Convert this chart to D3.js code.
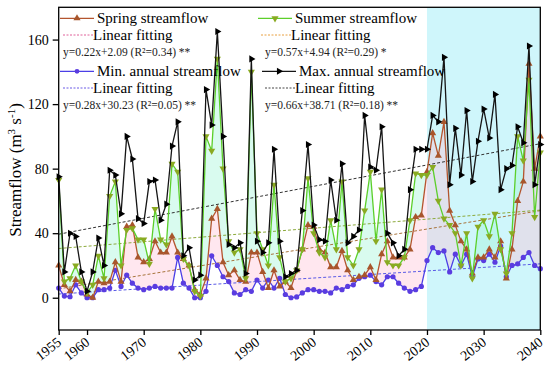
<!DOCTYPE html>
<html>
<head>
<meta charset="utf-8">
<script src="https://cdn.jsdelivr.net/npm/d3@7"></script>
<style>
  body { margin: 0; background: #fff; }
  svg { display: block; font-family: "Liberation Serif", "Times New Roman", serif; }
</style>
</head>
<body>
<div id="chart"></div>
<script>
const width = 550;
const height = 369;

const years = d3.range(1955, 2041);

const spring = [20, 8, 4, 11, 10, 2, 0, 10, 9, 10, 22, 10, 44, 45, 25, 22, 24, 35, 28, 28,
  38, 28, 24, 20, 5, 2, 12, 49, 55, 22, 14, 17, 11, 10, 28, 28, 16, 6, 17, 7,
  10, 6, 17, 30, 45, 44, 30, 28, 19, 19, 29, 17, 11, 13, 14, 19, 11, 27, 35, 25,
  25, 25, 30, 50, 51, 78, 102, 88, 109, 54, 45, 35, 30, 15, 25, 25, 30, 25, 35, 12,
  30, 60, 72, 145, 80, 100];

const summer = [73, 10, 12, 20, 10, 3, 8, 26, 12, 63, 72, 20, 42, 43, 36, 36, 21, 55, 36, 33,
  83, 78, 24, 20, 4, 1, 100, 91, 148, 80, 35, 28, 30, 12, 140, 40, 30, 20, 70, 25,
  10, 12, 17, 30, 74, 40, 28, 25, 48, 30, 72, 25, 20, 30, 54, 78, 35, 67, 22, 20,
  20, 25, 48, 77, 76, 76, 81, 60, 49, 45, 40, 20, 40, 12, 44, 48, 38, 52, 30, 15,
  40, 100, 85, 135, 50, 90];

const minFlow = [6, 1, 0.6, 8, 3, 0, 0, 5, 5, 6, 17, 7, 14, 9, 6, 5, 6, 7, 6, 6,
  6, 25, 9, 6, 0, 0, 4, 26, 20, 13, 10, 3, 2, 5, 4, 11, 6, 11, 6, 12,
  2, 0, 0.5, 3, 5, 5, 4, 4, 3, 6, 5, 7, 8, 12, 13, 14, 10, 8, 13, 13,
  9, 6, 4, 5, 7, 23, 31, 28, 29, 16, 27, 20, 27, 13, 24, 23, 27, 22, 32, 13,
  20, 21, 25, 28, 20, 18];

const maxFlow = [75, 16, 40, 38, 16, 4, 16, 37, 20, 79, 76, 52, 100, 86, 49, 46, 72, 73, 48, 58,
  94, 109, 26, 31, 11, 14, 129, 107, 165, 100, 33, 31, 34, 15, 148, 35, 28, 34, 92, 35,
  13, 15, 17, 54, 95, 45, 36, 35, 73, 48, 83, 34, 38, 42, 113, 81, 79, 106, 40, 34,
  26, 30, 67, 92, 92, 92, 113, 109, 149, 70, 105, 76, 116, 72, 97, 117, 99, 126, 67, 80,
  82, 106, 96, 156, 70, 95];

const seriesNames = ["Spring streamflow", "Summer streamflow", "Min. annual streamflow", "Max. annual streamflow"];
const fitSlopes = [0.22, 0.57, 0.28, 0.66];
const fitIntercepts = [2.09, 4.94, 30.23, 38.71];
const fitLabels = ["y=0.22x+2.09 (R\u00b2=0.34) **", "y=0.57x+4.94 (R\u00b2=0.29) *",
  "y=0.28x+30.23 (R\u00b2=0.05) **", "y=0.66x+38.71 (R\u00b2=0.18) **"];

const xTicks = [1955, 1960, 1970, 1980, 1990, 2000, 2010, 2020, 2030, 2040];
const yTicks = [0, 40, 80, 120, 160];
const shadeYears = [2020, 2040];

const svg = d3.select("#chart")
  .append("svg")
  .attr("width", width)
  .attr("height", height);

const x = d3.scaleLinear().domain([1955, 2040]).range([58.7, 540.3]);
const y = d3.scaleLinear().domain([-20, 180]).range([330, 7.3]);

const rows = years.map((yr, i) => ({
  year: yr, spring: spring[i], summer: summer[i], min: minFlow[i], max: maxFlow[i]
}));

// projection period shading
svg.append("rect")
  .attr("x", x(shadeYears[0]))
  .attr("y", y(180))
  .attr("width", x(shadeYears[1]) - x(shadeYears[0]))
  .attr("height", y(-20) - y(180))
  .attr("fill", "#cff6fb");

// fills between series
svg.append("path")
  .datum(rows)
  .attr("fill", "rgba(160, 245, 215, 0.4)")
  .attr("d", d3.area().x(d => x(d.year)).y0(d => y(d.spring)).y1(d => y(Math.max(d.spring, d.summer))));

svg.append("path")
  .datum(rows)
  .attr("fill", "rgba(255, 185, 210, 0.35)")
  .attr("d", d3.area().x(d => x(d.year)).y0(d => y(d.min)).y1(d => y(Math.max(d.min, d.spring))));

// trend lines
const fitColors = ["#5a5ae6", "#a8743c", "#8caa3c", "#333"];
fitSlopes.forEach((s, k) => {
  svg.append("line")
    .attr("x1", x(1955)).attr("x2", x(2040))
    .attr("y1", y(s * 1 + fitIntercepts[k]))
    .attr("y2", y(s * 86 + fitIntercepts[k]))
    .attr("stroke", fitColors[k])
    .attr("stroke-width", 1)
    .attr("stroke-dasharray", "3,2");
});

const line = key => d3.line().x(d => x(d.year)).y(d => y(d[key]));

const tri = d3.symbol().type(d3.symbolTriangle).size(22);

function drawSeries(key, color, markColor, marker) {
  svg.append("path")
    .datum(rows)
    .attr("fill", "none")
    .attr("stroke", color)
    .attr("stroke-width", 1.3)
    .attr("d", line(key));
  const g = svg.append("g");
  rows.forEach(d => {
    const px = x(d.year), py = y(d[key]);
    if (marker === "circle") {
      g.append("circle").attr("cx", px).attr("cy", py).attr("r", 2.6).attr("fill", markColor);
    } else {
      const rot = marker === "up" ? 0 : marker === "down" ? 180 : 90;
      g.append("path").attr("d", tri())
        .attr("transform", `translate(${px},${py}) rotate(${rot})`)
        .attr("fill", markColor);
    }
  });
}

drawSeries("min", "#4b3fe6", "#5a3ce0", "circle");
drawSeries("spring", "#b4552e", "#a8562c", "up");
drawSeries("summer", "#5ccf2a", "#8aaa22", "down");
drawSeries("max", "#151515", "#000", "right");

// frame
svg.append("rect")
  .attr("x", x(1955)).attr("y", y(180))
  .attr("width", x(2040) - x(1955))
  .attr("height", y(-20) - y(180))
  .attr("fill", "none")
  .attr("stroke", "#000")
  .attr("stroke-width", 1.3);

const yAxis = svg.append("g")
  .attr("transform", `translate(${x(1955)},0)`)
  .call(d3.axisLeft(y).tickValues(yTicks).tickSize(6).tickPadding(4));
yAxis.select(".domain").remove();
yAxis.selectAll("line").attr("stroke-width", 1.3);
yAxis.selectAll("text").attr("font-size", 14).attr("font-family", "Liberation Serif").attr("fill", "#000");

const xAxis = svg.append("g")
  .attr("transform", `translate(0,${y(-20)})`)
  .call(d3.axisBottom(x).tickValues(xTicks).tickFormat(d3.format("d")).tickSize(5));
xAxis.select(".domain").remove();
xAxis.selectAll("line").attr("stroke-width", 1.3);
xAxis.selectAll("text")
  .attr("font-size", 14)
  .attr("font-family", "Liberation Serif")
  .attr("fill", "#000")
  .attr("text-anchor", "end")
  .attr("x", 0).attr("y", 0).attr("dy", 0)
  .attr("transform", "translate(3,14) rotate(-38)");

// y label
const yl = svg.append("text")
  .attr("transform", "translate(21,170) rotate(-90)")
  .attr("text-anchor", "middle")
  .attr("font-size", 17);
yl.append("tspan").text("Streamflow (m");
yl.append("tspan").attr("baseline-shift", "super").attr("font-size", 11).text("3");
yl.append("tspan").text(" s");
yl.append("tspan").attr("baseline-shift", "super").attr("font-size", 11).text("-1");
yl.append("tspan").text(")");

// legend
const legendCols = [
  { x0: 60, name: seriesNames[0], color: "#b4552e", mark: "#a8562c", marker: "up", fitColor: "#e0609a", eqX: 63, fit: 0 },
  { x0: 258, name: seriesNames[1], color: "#5ccf2a", mark: "#8aaa22", marker: "down", fitColor: "#e8a040", eqX: 265, fit: 1 },
  { x0: 60, name: seriesNames[2], color: "#4b3fe6", mark: "#5a3ce0", marker: "circle", fitColor: "#6a5ae6", eqX: 63, fit: 2 },
  { x0: 262, name: seriesNames[3], color: "#151515", mark: "#000", marker: "right", fitColor: "#444", eqX: 265, fit: 3 }
];
legendCols.forEach((c, i) => {
  const top = i < 2 ? 0 : 53;
  const g = svg.append("g");
  g.append("line").attr("x1", c.x0).attr("x2", c.x0 + 34)
    .attr("y1", top + 18.3).attr("y2", top + 18.3)
    .attr("stroke", c.color).attr("stroke-width", 1.3);
  const mx = c.x0 + 17, my = top + 18.3;
  if (c.marker === "circle") {
    g.append("circle").attr("cx", mx).attr("cy", my).attr("r", 2.4).attr("fill", c.mark);
  } else {
    const rot = c.marker === "up" ? 0 : c.marker === "down" ? 180 : 90;
    g.append("path").attr("d", tri()).attr("transform", `translate(${mx},${my}) rotate(${rot})`).attr("fill", c.mark);
  }
  g.append("text").attr("x", c.x0 + 37).attr("y", top + 23).attr("font-size", 15).text(c.name);
  g.append("line").attr("x1", c.x0 + 3).attr("x2", c.x0 + 33)
    .attr("y1", top + 35).attr("y2", top + 35)
    .attr("stroke", c.fitColor).attr("stroke-width", 1).attr("stroke-dasharray", "2,1.5");
  g.append("text").attr("x", c.x0 + 33).attr("y", top + 40).attr("font-size", 15).text("Linear fitting");
  g.append("text").attr("x", c.eqX).attr("y", top + 55.5).attr("font-size", 11.5).attr("fill", "#222").text(fitLabels[c.fit]);
});
</script>
</body>
</html>
